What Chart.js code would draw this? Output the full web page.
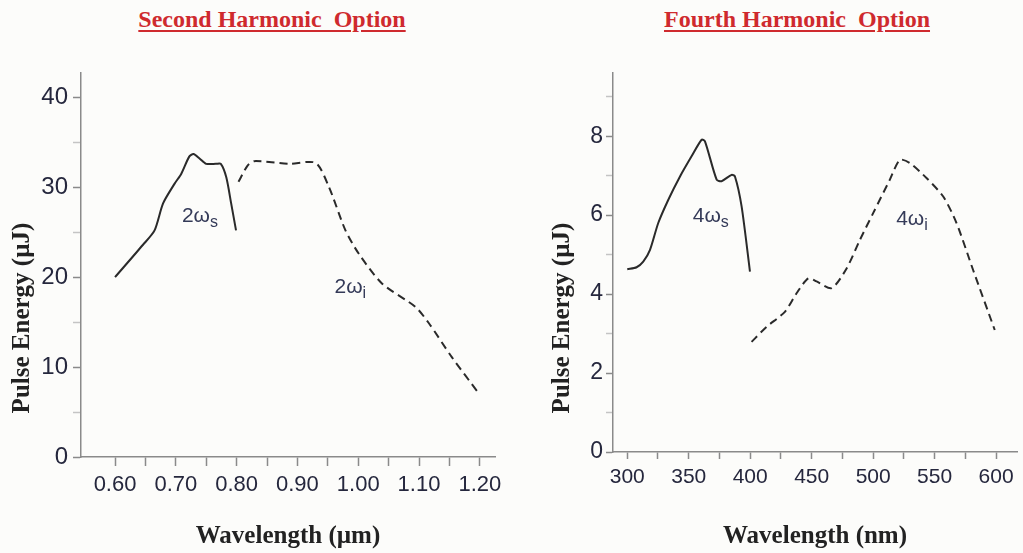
<!DOCTYPE html>
<html>
<head>
<meta charset="utf-8">
<script src="https://cdn.jsdelivr.net/npm/chart.js@4.4.1/dist/chart.umd.min.js"></script>
<style>
  html, body { margin: 0; padding: 0; background: #fcfcfa; }
  body { width: 1023px; height: 553px; position: relative; overflow: hidden; }
  .title {
    position: absolute; top: 6px; white-space: pre;
    font: bold 24px 'Liberation Serif', 'Times New Roman', serif;
    color: #cf2a2e; text-decoration: underline;
    text-decoration-thickness: 2px; text-underline-offset: 3px;
    transform: translateX(-50%);
  }
  .box { position: absolute; top: 0; height: 553px; }
</style>
</head>
<body>
<div class="title" style="left:272px">Second Harmonic  Option</div>
<div class="title" style="left:797px">Fourth Harmonic  Option</div>
<div class="box" style="left:0; width:520px"><canvas id="shgChart"></canvas></div>
<div class="box" style="left:530px; width:493px"><canvas id="fhgChart"></canvas></div>
<script>
// Second harmonic option (wavelength in µm, pulse energy in µJ)
const shgSignalX = [0.600, 0.646, 0.665, 0.679, 0.698, 0.709, 0.722, 0.729, 0.739, 0.750, 0.766, 0.774, 0.783, 0.791, 0.799];
const shgSignalY = [20.0, 23.6, 25.2, 28.2, 30.4, 31.5, 33.4, 33.7, 33.2, 32.6, 32.6, 32.6, 31.1, 28.2, 25.2];
const shgIdlerX = [0.803, 0.818, 0.829, 0.886, 0.930, 0.952, 0.979, 1.001, 1.039, 1.094, 1.116, 1.154, 1.198];
const shgIdlerY = [30.6, 32.4, 32.9, 32.6, 32.7, 30.0, 25.2, 22.6, 19.3, 16.7, 14.9, 11.1, 7.1];

const shgXTicks = [0.60, 0.65, 0.70, 0.75, 0.80, 0.85, 0.90, 0.95, 1.00, 1.05, 1.10, 1.15, 1.20];
const shgXLabels = ['0.60', '', '0.70', '', '0.80', '', '0.90', '', '1.00', '', '1.10', '', '1.20'];
const shgYTicks = [0, 5, 10, 15, 20, 25, 30, 35, 40];
const shgYLabels = ['0', '', '10', '', '20', '', '30', '', '40'];

// Fourth harmonic option (wavelength in nm, pulse energy in µJ)
const fhgSignalX = [300, 307.6, 313, 318.5, 325.2, 333.4, 342.9, 352.3, 360.5, 363.2, 372.7, 376.7, 384.9, 387.6, 393, 399.8];
const fhgSignalY = [4.63, 4.68, 4.82, 5.12, 5.80, 6.39, 6.98, 7.49, 7.91, 7.87, 6.90, 6.86, 7.02, 6.98, 6.22, 4.57];
const fhgIdlerX = [401.1, 413.3, 428.2, 437.7, 447.2, 454, 466.2, 478.4, 489.2, 500, 513.6, 521.7, 529.8, 543.4, 557, 567.8, 581.3, 598.9];
const fhgIdlerY = [2.79, 3.17, 3.55, 4.02, 4.40, 4.32, 4.15, 4.65, 5.37, 6.05, 6.90, 7.40, 7.32, 6.94, 6.47, 5.80, 4.61, 3.09];

const fhgXTicks = [300, 325, 350, 375, 400, 425, 450, 475, 500, 525, 550, 575, 600];
const fhgXLabels = ['300', '', '350', '', '400', '', '450', '', '500', '', '550', '', '600'];
const fhgYTicks = [0, 1, 2, 3, 4, 5, 6, 7, 8, 9];
const fhgYLabels = ['0', '', '2', '', '4', '', '6', '', '8', ''];

const axisGrey = '#8a8a8a';
const tickText = '#25273d';

function pairs(xs, ys) {
    return xs.map((x, i) => ({x: x, y: ys[i]}));
}

// curve labels and the rotated y title
const textPlugin = {
    id: 'curveText',
    afterDatasetsDraw(chart, args, opts) {
        const ctx = chart.ctx;
        const xs = chart.scales.x, ys = chart.scales.y;
        ctx.save();
        ctx.fillStyle = '#343a58';
        ctx.textBaseline = 'alphabetic';
        ctx.textAlign = 'left';
        opts.notes.forEach(n => {
            const px = xs.getPixelForValue(n.x);
            const py = ys.getPixelForValue(n.y);
            ctx.font = '21px "Liberation Sans", Arial, sans-serif';
            ctx.fillText(n.main, px, py);
            const w = ctx.measureText(n.main).width;
            ctx.font = '16px "Liberation Sans", Arial, sans-serif';
            ctx.fillText(n.sub, px + w, py + 5);
        });
        ctx.translate(opts.titleX, 318);
        ctx.rotate(-Math.PI / 2);
        ctx.font = 'bold 25px "Liberation Serif", "Times New Roman", serif';
        ctx.fillStyle = '#222';
        ctx.textAlign = 'center';
        ctx.textBaseline = 'middle';
        ctx.fillText('Pulse Energy (µJ)', 0, 0);
        ctx.restore();
    }
};

function makeChart(id, cfg) {
    const ctx = document.getElementById(id).getContext('2d');
    return new Chart(ctx, {
        type: 'line',
        data: {
            datasets: [
                {
                    data: pairs(cfg.signalX, cfg.signalY),
                    borderColor: '#2a2a2a',
                    borderWidth: 2,
                    tension: 0.25,
                    pointRadius: 0
                },
                {
                    data: pairs(cfg.idlerX, cfg.idlerY),
                    borderColor: '#2a2a2a',
                    borderWidth: 2,
                    borderDash: [8, 5],
                    tension: 0.25,
                    pointRadius: 0
                }
            ]
        },
        plugins: [textPlugin],
        options: {
            responsive: true,
            maintainAspectRatio: false,
            animation: false,
            layout: {padding: {top: 73, right: cfg.padRight, left: 0, bottom: 0}},
            plugins: {
                legend: {display: false},
                tooltip: {enabled: false},
                curveText: {notes: cfg.notes, titleX: cfg.titleX}
            },
            scales: {
                x: {
                    type: 'linear',
                    min: cfg.xMin,
                    max: cfg.xMax,
                    afterBuildTicks: s => { s.ticks = cfg.xTicks.map(v => ({value: v})); },
                    afterFit: s => { s.height = cfg.xHeight; },
                    grid: {drawOnChartArea: false, tickLength: cfg.xTickLen, tickColor: axisGrey, tickWidth: 1.5},
                    border: {color: axisGrey, width: 1.5},
                    ticks: {
                        autoSkip: false,
                        maxRotation: 0,
                        padding: 6,
                        color: tickText,
                        font: {family: '"Liberation Sans", Arial, sans-serif', size: cfg.xFont},
                        callback: (v, i) => cfg.xLabels[i]
                    },
                    title: {
                        display: true,
                        text: cfg.xTitle,
                        color: '#222',
                        font: {family: '"Liberation Serif", "Times New Roman", serif', size: 25, weight: 'bold'},
                        padding: {top: 0, bottom: 1}
                    }
                },
                y: {
                    min: 0,
                    max: cfg.yMax,
                    afterBuildTicks: s => { s.ticks = cfg.yTicks.map(v => ({value: v})); },
                    afterFit: s => { s.width = cfg.yWidth; },
                    grid: {
                        drawOnChartArea: false,
                        tickLength: cfg.yTickLen,
                        tickColor: c => (cfg.yLabels[c.index] ? axisGrey : '#c4c4c4'),
                        tickWidth: 1.5
                    },
                    border: {color: axisGrey, width: 1.5},
                    ticks: {
                        autoSkip: false,
                        padding: cfg.yPad,
                        color: tickText,
                        font: {family: '"Liberation Sans", Arial, sans-serif', size: cfg.yFont},
                        callback: (v, i) => cfg.yLabels[i]
                    }
                }
            }
        }
    });
}

makeChart('shgChart', {
    signalX: shgSignalX, signalY: shgSignalY,
    idlerX: shgIdlerX, idlerY: shgIdlerY,
    xTicks: shgXTicks, xLabels: shgXLabels,
    yTicks: shgYTicks, yLabels: shgYLabels,
    xMin: 0.544, xMax: 1.225, yMax: 42.7,
    xTitle: 'Wavelength (µm)',
    padRight: 25, yWidth: 81, xHeight: 96,
    xTickLen: 9, yTickLen: 8, yPad: 5,
    xFont: 22, yFont: 24,
    titleX: 23,
    notes: [
        {x: 0.710, y: 26.1, main: '2ω', sub: 's'},
        {x: 0.961, y: 18.2, main: '2ω', sub: 'i'}
    ]
});

makeChart('fhgChart', {
    signalX: fhgSignalX, signalY: fhgSignalY,
    idlerX: fhgIdlerX, idlerY: fhgIdlerY,
    xTicks: fhgXTicks, xLabels: fhgXLabels,
    yTicks: fhgYTicks, yLabels: fhgYLabels,
    xMin: 288.4, xMax: 617, yMax: 9.6,
    xTitle: 'Wavelength (nm)',
    padRight: 6, yWidth: 83, xHeight: 101,
    xTickLen: 7, yTickLen: 7, yPad: 3,
    xFont: 21, yFont: 23,
    titleX: 33,
    notes: [
        {x: 353.3, y: 5.83, main: '4ω', sub: 's'},
        {x: 518.7, y: 5.75, main: '4ω', sub: 'i'}
    ]
});
</script>
</body>
</html>
